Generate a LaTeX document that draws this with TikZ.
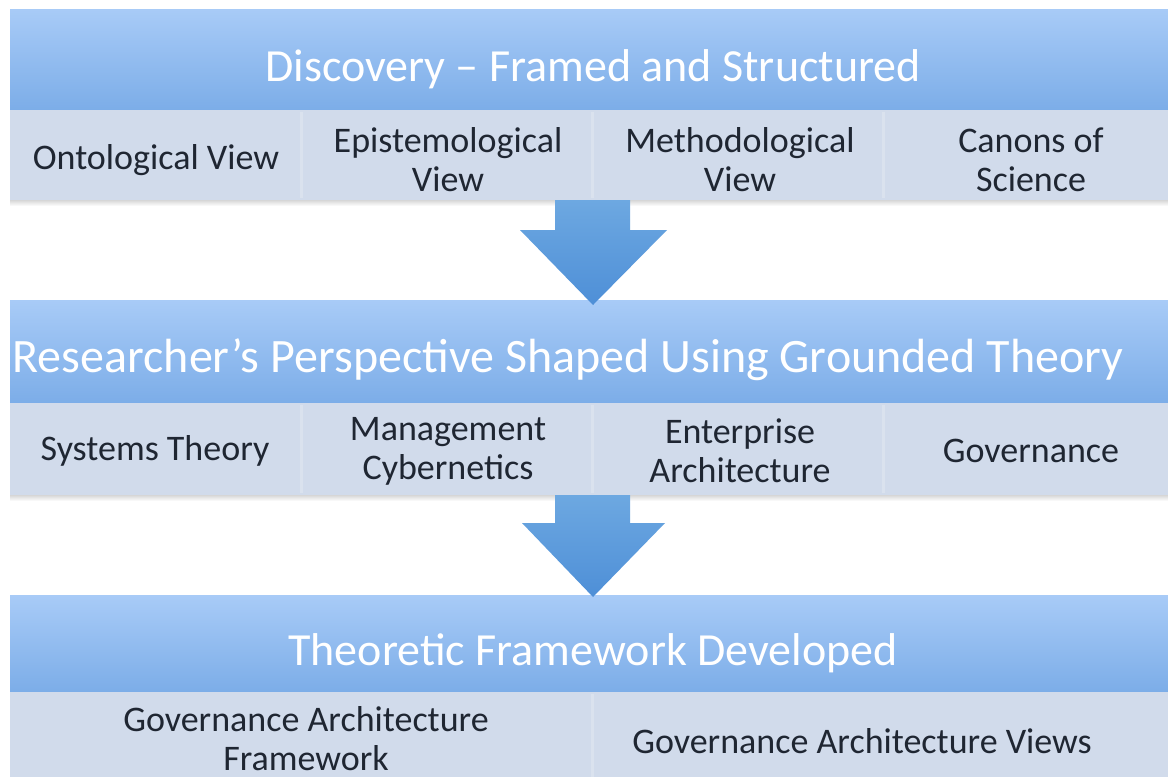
\documentclass[tikz,border=0pt]{standalone}
\usepackage{fontspec}
\setmainfont{Carlito}
\usetikzlibrary{calc}
\definecolor{hdtop}{HTML}{A8CBF7}
\definecolor{hdbot}{HTML}{7CADE8}
\definecolor{subfill}{HTML}{D1DBEB}
\definecolor{sepcol}{HTML}{DAE2EE}
\definecolor{arrtop}{HTML}{6DA8E1}
\definecolor{arrbot}{HTML}{4E8FD7}
\definecolor{txt}{HTML}{1F2632}
\begin{document}
\begin{tikzpicture}[x=1pt,y=-1pt,
  hdband/.style={rectangle, inner sep=0, outer sep=0, draw=none, top color=hdtop, bottom color=hdbot, anchor=north west, minimum width=1158pt},
  subband/.style={rectangle, inner sep=0, outer sep=0, draw=none, fill=subfill, anchor=north west, minimum width=1158pt},
  hdtext/.style={text=white, font=\fontsize{46}{50}\selectfont, inner sep=0, anchor=base},
  celltext/.style={text=txt, font=\fontsize{36}{39}\selectfont, align=center, inner sep=0, anchor=center},
  sepline/.style={draw=sepcol, line width=3pt},
  blockarrow/.style={top color=arrtop, bottom color=arrbot, draw=none},
  shadowstrip/.style={top color=black!16, bottom color=white, draw=none}
]
\useasboundingbox (0,0) rectangle (1168,777);
\fill[white] (0,0) rectangle (1168,777);

% ---------- band 1 ----------
\node[hdband, minimum height=101pt] (h1) at (10,9) {};
\node[subband, minimum height=90pt] (s1) at (10,110) {};
\shade[shadowstrip] (s1.south west) rectangle ($(s1.south east)+(0,6)$);
\draw[sepline] (301,112) -- (301,198);
\draw[sepline] (592,112) -- (592,198);
\draw[sepline] (883,112) -- (883,198);
\node[hdtext] (t1) at (593,81) {Discovery – Framed and Structured};
\node[celltext] (c11) at (156,160) {Ontological View};
\node[celltext] (c12) at (448,160) {Epistemological\\View};
\node[celltext] (c13) at (740,160) {Methodological\\View};
\node[celltext] (c14) at (1031,160) {Canons of\\Science};

% ---------- band 2 ----------
\node[hdband, minimum height=103pt] (h2) at (10,300) {};
\node[subband, minimum height=92pt] (s2) at (10,403) {};
\shade[shadowstrip] (s2.south west) rectangle ($(s2.south east)+(0,6)$);
\draw[sepline] (301,405) -- (301,493);
\draw[sepline] (592,405) -- (592,493);
\draw[sepline] (883,405) -- (883,493);
\node[hdtext, font=\fontsize{48}{52}\selectfont] (t2) at (568,372) {Researcher’s Perspective Shaped Using Grounded Theory};
\node[celltext] (c21) at (155,451) {Systems Theory};
\node[celltext] (c22) at (448,451) {Management\\Cybernetics};
\node[celltext] (c23) at (740,451) {Enterprise\\Architecture};
\node[celltext] (c24) at (1031,451) {Governance};

% ---------- band 3 ----------
\node[hdband, minimum height=97pt] (h3) at (10,595) {};
\node[subband, minimum height=85pt] (s3) at (10,692) {};
\draw[sepline] (592,694) -- (592,777);
\node[hdtext] (t3) at (593,665) {Theoretic Framework Developed};
\node[celltext] (c31) at (306,739) {Governance Architecture\\Framework};
\node[celltext] (c32) at (862,741) {Governance Architecture Views};

% ---------- block arrows ----------
\coordinate (a1s) at (593,200);
\coordinate (a1e) at (593,305);
\shade[blockarrow] ($(a1s)+(-38,0)$) -- ($(a1s)+(37,0)$) -- ($(a1s)+(37,30)$) -- ($(a1s)+(74,30)$)
  -- (a1e) -- ($(a1s)+(-73,30)$) -- ($(a1s)+(-38,30)$) -- cycle;
\coordinate (a2s) at (593,495);
\coordinate (a2e) at (593,597);
\shade[blockarrow] ($(a2s)+(-38,0)$) -- ($(a2s)+(37,0)$) -- ($(a2s)+(37,28)$) -- ($(a2s)+(72,28)$)
  -- (a2e) -- ($(a2s)+(-71,28)$) -- ($(a2s)+(-38,28)$) -- cycle;
\end{tikzpicture}
\end{document}
